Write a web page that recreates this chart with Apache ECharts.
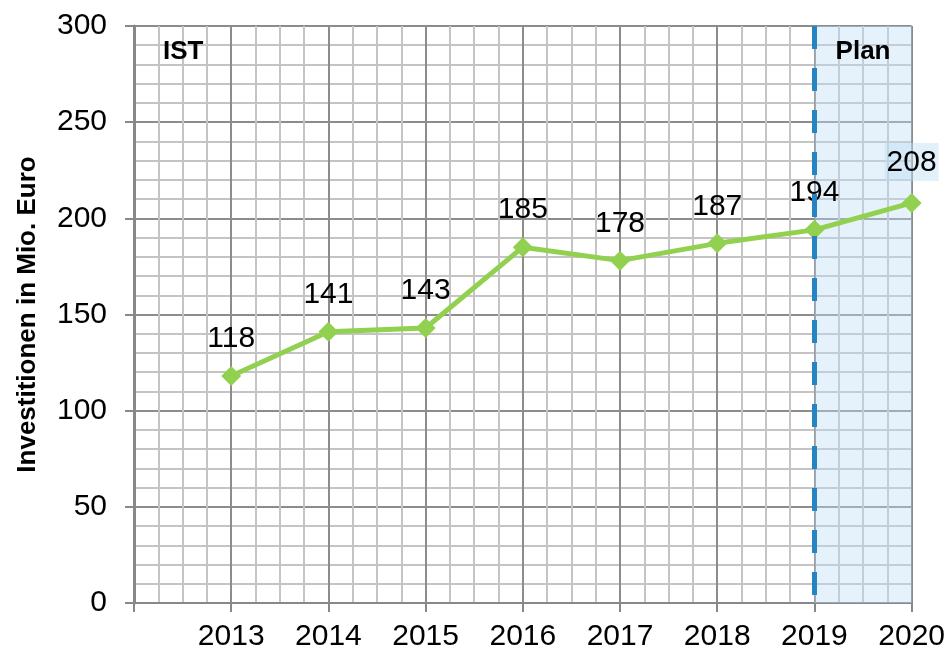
<!DOCTYPE html>
<html>
<head>
<meta charset="utf-8">
<script src="https://cdn.jsdelivr.net/npm/echarts@6/dist/echarts.min.js"></script>
<style>
  html, body { margin: 0; padding: 0; background: #fff; }
  #main { width: 948px; height: 657px; }
</style>
</head>
<body>
<div id="main"></div>
<script>
// Daten
var years = [2013, 2014, 2015, 2016, 2017, 2018, 2019, 2020];
var values = [118, 141, 143, 185, 178, 187, 194, 208];
var planStart = 2019;
var planEnd = 2020;

var chart = echarts.init(document.getElementById('main'));

var lineData = years.map(function (y, i) {
  var item = { value: [y, values[i]] };
  // letzter Wert ragt in den Plan-Bereich hinaus (hellblau hinterlegt)
  if (i === years.length - 1) {
    item.label = { backgroundColor: 'rgba(190,222,245,0.45)', padding: [5, 2, 3, 2] };
  }
  return item;
});

var option = {
  animation: false,
  textStyle: { fontFamily: 'Liberation Sans, Arial, sans-serif' },
  grid: { left: 134, right: 36, top: 26, bottom: 54 },
  xAxis: {
    type: 'value',
    min: 2012,
    max: 2020,
    interval: 1,
    axisLine: { show: true, lineStyle: { color: '#888', width: 2 } },
    axisTick: { show: true, length: 9, lineStyle: { color: '#888', width: 2 } },
    axisLabel: {
      fontSize: 30,
      color: '#000',
      margin: 19,
      formatter: function (v) { return v === 2012 ? '' : String(v); }
    },
    splitLine: { show: true, lineStyle: { color: '#8c8c8c', width: 2 } },
    minorTick: { show: false, splitNumber: 4 },
    minorSplitLine: { show: true, lineStyle: { color: '#c4c4c4', width: 2 } }
  },
  yAxis: {
    type: 'value',
    min: 0,
    max: 300,
    interval: 50,
    name: 'Investitionen in Mio. Euro',
    nameLocation: 'middle',
    nameGap: 93,
    nameTextStyle: { fontSize: 26, fontWeight: 'bold', color: '#000' },
    axisLine: { show: true, lineStyle: { color: '#888', width: 3 } },
    axisTick: { show: true, length: 9, lineStyle: { color: '#888', width: 2 } },
    axisLabel: { fontSize: 30, color: '#000', margin: 27 },
    splitLine: { show: true, lineStyle: { color: '#8c8c8c', width: 2 } },
    minorTick: { show: false, splitNumber: 5 },
    minorSplitLine: { show: true, lineStyle: { color: '#c4c4c4', width: 2 } }
  },
  series: [
    {
      // Bereiche IST / Plan
      type: 'line',
      data: [],
      z: 1,
      silent: true,
      markArea: {
        silent: true,
        data: [
          [
            {
              xAxis: 2012,
              itemStyle: { color: 'rgba(0,0,0,0)' },
              label: {
                show: true, position: 'insideTopLeft', distance: 0, offset: [29, 13],
                formatter: 'IST', fontSize: 26, fontWeight: 'bold', color: '#000'
              }
            },
            { xAxis: planStart }
          ],
          [
            {
              xAxis: planStart,
              itemStyle: { color: 'rgba(190,222,245,0.4)' },
              label: {
                show: true, position: 'insideTop', distance: 13,
                formatter: 'Plan', fontSize: 26, fontWeight: 'bold', color: '#000'
              }
            },
            { xAxis: planEnd }
          ]
        ]
      },
      markLine: {
        silent: true,
        symbol: 'none',
        label: { show: false },
        lineStyle: { color: '#2784c3', width: 5, type: [23, 19], dashOffset: 34 },
        data: [{ xAxis: planStart }]
      }
    },
    {
      name: 'Investitionen',
      type: 'line',
      z: 3,
      data: lineData,
      symbol: 'diamond',
      symbolSize: 20,
      lineStyle: { color: '#92d050', width: 5 },
      itemStyle: { color: '#92d050' },
      label: {
        show: true,
        position: 'top',
        distance: 12,
        fontSize: 30,
        color: '#000',
        formatter: function (p) { return p.value[1]; }
      }
    }
  ]
};

chart.setOption(option);
</script>
</body>
</html>
